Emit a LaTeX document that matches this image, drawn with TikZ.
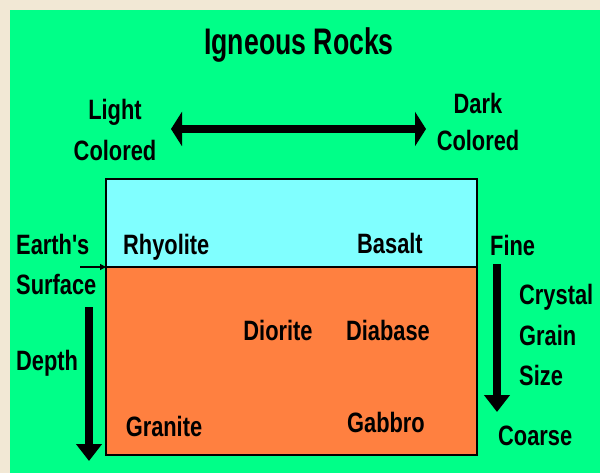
\documentclass[tikz,border=0pt]{standalone}
\usepackage{fontspec}
\usepackage{xcolor}
\usepackage{tikz}
\usetikzlibrary{arrows.meta, positioning}
\newfontfamily\rockfont{Liberation Sans}[FakeStretch=0.78]
\newfontfamily\headfont{Liberation Sans}[FakeStretch=0.72]
\definecolor{pagebeige}{RGB}{242, 232, 213}
\definecolor{rockgreen}{RGB}{0, 255, 136}
\definecolor{finecyan}{RGB}{128, 255, 255}
\definecolor{coarseorange}{RGB}{255, 128, 64}

\begin{document}
\begin{tikzpicture}[
  x=1pt, y=-1pt,
  lbl/.style={font=\rockfont\bfseries\fontsize{28}{28}\selectfont, inner sep=0pt},
  title/.style={font=\headfont\bfseries\fontsize{37}{37}\selectfont, inner sep=0pt},
  bigarrow/.style={line width=8pt, {Triangle[width=34pt,length=11pt]}-{Triangle[width=34pt,length=11pt]}},
  downarrow/.style={line width=8pt, -{Triangle[width=25pt,length=17pt]}},
  thinarrow/.style={line width=1.2pt, -{Triangle[width=6pt,length=6pt]}}
]
  % background and frame
  \useasboundingbox (0,0) rectangle (600,473);
  \fill[pagebeige] (0,0) rectangle (600,473);
  \fill[rockgreen] (10,10) rectangle (600,473);

  % rock layers
  \draw[line width=2pt, fill=finecyan] (106,179) rectangle (477,267);
  \draw[line width=2pt, fill=coarseorange] (106,267) rectangle (477,455);

  \node[title] (ttl) at (299,45) {Igneous Rocks};

  % colour scale
  \node[lbl] (light) at (115,112) {Light};
  \node[lbl] (lightc) at (115,150) {Colored};
  \node[lbl] (dark) at (478,103) {Dark};
  \node[lbl] (darkc) at (478,140) {Colored};
  \coordinate (cl) at (171,129);
  \coordinate (cr) at (426,129);
  \draw[bigarrow] (cl) -- (cr);

  % depth side
  \node[lbl, anchor=west] (earth) at (16,244) {Earth's};
  \node[lbl, anchor=west] (surf) at (16,284) {Surface};
  \coordinate (sfs) at (80,267);
  \coordinate (sfe) at (106,267);
  \draw[thinarrow] (sfs) -- (sfe);
  \node[lbl, anchor=west] (depth) at (16,363) {Depth};
  \coordinate (dtop) at (89,307);
  \coordinate (dbot) at (89,461);
  \draw[downarrow] (dtop) -- (dbot);

  % rock names
  \node[lbl, anchor=west] (rhy) at (123,247) {Rhyolite};
  \node[lbl] (bas) at (390,243) {Basalt};
  \node[lbl] (dio) at (278,330) {Diorite};
  \node[lbl] (dia) at (388,330) {Diabase};
  \node[lbl] (gra) at (164,426) {Granite};
  \node[lbl] (gab) at (386,422) {Gabbro};

  % grain size side
  \node[lbl, anchor=west] (fine) at (490,245) {Fine};
  \coordinate (gtop) at (497,264);
  \coordinate (gbot) at (497,412);
  \draw[downarrow] (gtop) -- (gbot);
  \node[lbl, anchor=west] (crys) at (519,297) {Crystal};
  \node[lbl, anchor=west] (grain) at (519,335) {Grain};
  \node[lbl, anchor=west] (size) at (519,375) {Size};
  \node[lbl, anchor=west] (coarse) at (498,436) {Coarse};
\end{tikzpicture}
\end{document}
